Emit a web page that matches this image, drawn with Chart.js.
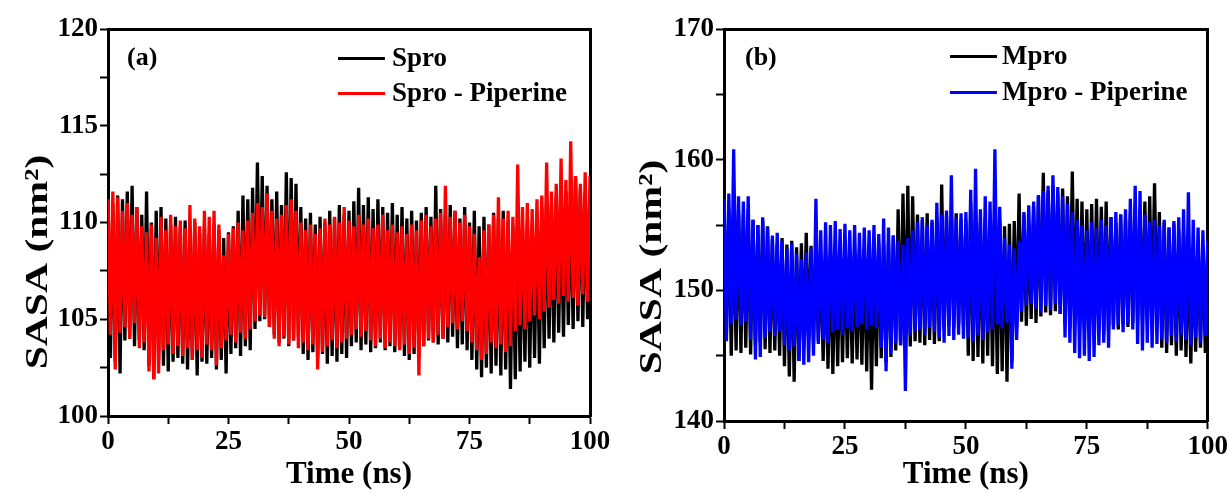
<!DOCTYPE html>
<html>
<head>
<meta charset="utf-8">
<script src="https://cdn.jsdelivr.net/npm/chart.js@4.4.1/dist/chart.umd.min.js"></script>
<style>
body{margin:0;background:#fff;width:1230px;height:494px;position:relative;overflow:hidden;font-family:"Liberation Serif",serif}
canvas{position:absolute;top:0}
.lab{position:absolute;font-weight:bold;color:#000;white-space:nowrap;line-height:1}
.key{position:absolute;height:3px;width:47px}
</style>
</head>
<body>
<canvas id="chartA" width="615" height="494" style="left:0"></canvas>
<canvas id="chartB" width="615" height="494" style="left:615px"></canvas>

<div class="lab" style="left:127px;top:44px;font-size:26px">(a)</div>
<div class="key" style="left:338px;top:57px;background:#000"></div>
<div class="lab" style="left:392px;top:44px;font-size:27px">Spro</div>
<div class="key" style="left:338px;top:92px;background:#f00"></div>
<div class="lab" style="left:392px;top:79px;font-size:27px">Spro - Piperine</div>

<div class="lab" style="left:745px;top:44px;font-size:26px">(b)</div>
<div class="key" style="left:950px;top:55px;background:#000"></div>
<div class="lab" style="left:1002px;top:42px;font-size:27px">Mpro</div>
<div class="key" style="left:950px;top:91px;background:#00f"></div>
<div class="lab" style="left:1002px;top:78px;font-size:27px">Mpro - Piperine</div>

<script>
// time axis, one sample per ns (0..100)
const time = Array.from({length:101},(_,i)=>i)

// (a) SASA envelope: upper and lower edge of each trace per ns
const sproHigh = [111.3,111.0,111.4,111.2,111.6,111.9,110.8,110.4,111.6,110.0,
 110.6,110.8,110.2,109.9,110.3,109.8,110.1,109.7,110.0,109.5,
 109.8,109.4,109.9,109.6,109.2,109.5,109.8,110.6,111.4,111.2,
 111.8,113.1,112.4,111.9,111.2,111.6,110.9,112.6,112.3,112.0,
 110.8,110.2,110.5,109.9,110.3,110.0,110.6,110.2,110.9,110.4,
 110.6,111.1,111.8,110.9,111.3,110.7,111.2,110.8,110.5,111.0,
 110.4,110.8,110.2,110.6,110.1,110.5,110.8,110.3,111.9,110.7,
 110.4,110.9,110.6,110.2,110.8,110.0,110.6,109.8,110.3,109.9,
 110.5,110.2,110.6,110.1,109.8,110.3,109.6,110.0,109.9,110.4,
 110.8,111.2,110.9,111.4,111.1,111.6,111.3,112.3,111.8,111.5,111.2]
const sproLow = [103.0,102.8,102.2,103.9,104.0,103.6,103.9,103.4,102.6,101.9,
 102.9,102.6,102.3,102.8,103.0,102.7,102.4,102.9,102.1,102.8,
 102.7,103.0,102.4,102.9,102.2,103.2,103.5,103.1,103.6,103.4,
 104.5,104.9,105.0,104.6,104.2,103.8,104.0,103.6,103.9,104.1,
 103.2,102.9,103.3,103.0,103.2,102.7,103.1,102.8,103.2,103.0,
 103.6,103.8,103.4,103.7,103.3,103.5,103.8,103.4,103.6,103.3,
 103.5,103.1,102.9,103.2,103.0,103.6,103.9,103.8,103.7,104.0,
 103.8,104.1,103.5,103.7,103.4,102.9,102.4,102.0,102.5,102.2,
 102.6,102.1,102.4,101.4,101.9,102.3,102.8,102.5,103.0,102.7,
 103.5,104.0,103.8,104.3,104.1,104.7,104.5,104.9,104.6,105.0,104.8]
const sproPipHigh = [111.2,111.6,111.3,110.6,111.0,110.4,110.8,109.8,109.5,109.9,
 109.2,110.3,109.6,110.4,109.8,110.1,109.7,110.9,110.2,109.8,
 110.6,110.3,110.6,109.9,108.3,109.4,109.7,110.0,109.6,110.1,
 110.5,111.0,110.8,111.5,110.6,110.2,110.4,110.9,111.2,110.6,
 110.0,109.6,109.9,109.4,109.7,110.2,109.9,110.3,110.0,110.8,
 110.1,109.8,110.4,109.9,110.2,109.7,109.9,110.4,109.6,109.9,
 109.5,109.8,109.4,109.9,109.6,110.1,110.4,109.8,110.2,110.5,
 111.9,110.3,110.6,110.0,110.4,109.8,109.4,108.2,109.6,109.9,
 110.4,111.3,110.2,110.6,110.3,113.0,110.8,111.0,110.7,111.2,
 111.4,113.1,111.6,112.0,113.3,112.2,114.2,112.4,112.0,112.6,112.4]
const sproPipLow = [104.2,102.4,104.3,104.6,104.0,104.8,103.5,103.8,102.3,101.9,
 102.2,103.4,103.7,103.2,103.6,103.1,103.5,102.9,103.4,103.0,
 103.7,103.4,102.6,103.5,103.9,104.2,103.8,104.3,104.0,104.5,
 104.9,105.2,105.1,104.6,104.0,103.6,104.1,103.7,103.9,103.5,
 103.8,103.4,103.7,102.4,103.3,103.6,103.9,103.5,103.8,104.0,
 104.2,104.5,104.1,104.4,103.9,103.6,104.0,103.5,103.8,103.6,
 103.4,103.7,103.2,103.5,102.1,103.6,104.0,103.8,104.2,104.0,
 104.6,104.8,104.5,104.9,104.4,103.8,103.4,102.9,103.2,103.8,
 103.5,103.7,103.3,103.6,104.4,104.7,104.5,104.9,105.2,105.0,
 105.4,105.6,106.0,105.8,106.2,105.9,106.1,105.7,106.3,105.9,106.2]

// (b)
const mproHigh = [158.0,156.2,155.9,156.1,155.8,156.2,155.4,155.0,155.3,154.9,
 153.9,153.6,154.0,153.5,153.8,153.3,153.6,154.4,153.4,153.0,
 152.6,152.4,152.8,152.5,152.9,153.0,152.7,153.1,152.8,153.2,
 153.5,153.2,153.6,153.4,153.7,154.2,156.2,157.4,158.0,157.2,
 155.8,155.4,155.9,155.2,155.6,158.1,155.7,155.3,155.9,155.5,
 155.4,156.7,155.8,155.2,155.6,155.0,154.8,155.3,154.9,155.1,
 155.3,157.4,155.8,155.2,156.4,157.2,159.0,157.6,158.0,157.4,
 157.8,157.2,159.1,157.0,156.8,156.2,156.6,157.0,156.4,156.8,
 155.6,155.2,155.8,155.4,155.9,156.4,156.2,156.8,157.2,158.2,
 156.0,155.2,154.8,155.1,154.6,154.2,153.6,153.2,153.8,153.4,153.0]
const mproLow = [146.6,145.0,145.4,145.2,145.6,145.1,145.8,146.0,145.5,145.2,
 145.4,145.0,144.2,143.4,143.0,144.6,145.8,146.2,145.9,146.1,
 144.6,144.0,143.6,144.2,144.5,144.8,144.4,144.7,144.3,143.8,
 142.4,144.2,144.8,144.5,144.9,145.4,145.8,146.0,145.7,146.1,
 146.0,145.8,146.2,145.9,146.1,147.0,147.3,147.1,147.4,147.2,
 145.0,144.6,144.9,144.4,145.0,144.2,143.6,143.8,143.0,144.5,
 147.0,147.6,147.3,147.8,147.5,148.0,148.3,148.1,148.4,148.2,
 147.4,147.1,147.6,147.2,147.0,146.8,147.1,146.9,146.6,147.0,
 147.3,147.0,147.4,147.2,147.5,147.6,147.8,147.4,147.7,147.5,
 145.6,145.2,145.8,145.0,145.4,144.9,144.4,145.3,145.6,145.2,145.5]
const mproPipHigh = [157.0,157.4,160.8,157.2,156.8,157.2,155.4,155.0,155.6,154.8,
 154.2,154.4,153.8,153.2,153.6,152.8,152.4,152.9,153.2,157.0,
 154.6,155.2,155.0,155.3,154.7,155.1,154.6,155.0,154.4,154.8,
 154.6,155.0,154.3,155.5,154.8,154.2,153.8,153.5,154.0,154.6,
 155.2,155.6,155.0,155.4,156.7,155.8,156.1,158.8,155.6,155.9,
 156.0,157.7,159.3,156.2,157.2,156.8,160.8,156.4,154.0,153.5,
 153.2,153.8,156.0,156.5,156.8,157.3,157.6,158.0,158.8,157.9,
 157.2,156.6,156.0,155.4,155.0,154.6,155.2,154.8,155.4,155.0,
 155.6,156.0,155.8,156.2,157.0,158.0,157.6,155.8,155.2,155.4,
 155.0,155.4,154.8,155.3,155.6,156.2,157.5,155.4,154.8,154.6,153.8]
const mproPipLow = [146.1,147.4,147.8,147.3,147.6,146.2,144.7,144.9,146.4,146.8,
 146.5,146.9,145.8,145.4,145.7,144.6,144.3,144.5,145.0,145.9,
 146.2,146.0,146.8,147.0,146.6,147.1,146.9,147.2,147.4,147.0,
 147.3,147.1,145.6,143.8,145.2,146.0,145.8,142.3,146.6,146.9,
 147.0,146.6,147.2,146.8,146.4,146.0,146.5,146.2,146.6,146.3,
 146.4,146.1,146.6,146.2,146.8,147.0,147.4,147.1,147.5,144.0,
 146.2,148.4,148.8,149.0,148.6,148.3,148.8,148.5,149.0,148.2,
 146.4,146.0,145.2,144.8,145.0,144.6,144.9,145.8,146.0,145.6,
 147.0,147.3,146.8,147.4,147.0,145.9,145.4,146.0,145.6,145.9,
 146.3,146.0,146.5,146.1,146.6,146.2,145.8,146.4,146.0,146.5,146.3]

// trace goes up to the high edge at each ns and down to the low edge half a ns later
function band(hi,lo){
 const pts=[]
 time.forEach((t,i)=>{
  pts.push({x:t,y:hi[i]})
  if(i<time.length-1) pts.push({x:t+0.5,y:lo[i]})
 })
 return pts
}

Chart.defaults.font.family="'Liberation Serif', serif"
Chart.defaults.color="#000"

// rotated y title with the superscript (the source figure is stretched vertically)
const sideTitle={
 id:"sideTitle",
 afterDraw(chart,args,o){
  const c=chart.ctx
  c.save()
  c.translate(o.x,o.y)
  c.rotate(-Math.PI/2)
  c.scale(1.3,1)
  c.fillStyle="#000"
  c.textAlign="center"
  c.textBaseline="middle"
  c.font="bold 32px 'Liberation Serif'"
  c.fillText("SASA (nm²)",0,0)
  c.restore()
 }
}

function panel(id,sets,yMin,yMax,yStep,yLabelEvery,geo){
 const edge={display:true,color:"#000",width:3}
 return new Chart(document.getElementById(id),{
  type:"line",
  data:{datasets:sets.map(s=>({
   data:band(s.hi,s.lo),
   borderColor:s.color,
   borderWidth:3.3,
   borderJoinStyle:"bevel",
   pointRadius:0,
   fill:false,
   tension:0,
   order:s.order,
   xAxisID:"x",
   yAxisID:"y"
  }))},
  options:{
   responsive:false,
   animation:false,
   layout:{padding:{top:geo.top,right:geo.right,left:0,bottom:0}},
   plugins:{legend:{display:false},tooltip:{enabled:false},sideTitle:geo.title},
   scales:{
    x:{type:"linear",position:"bottom",min:0,max:100,
     afterFit:s=>{s.height=geo.xh},
     border:edge,
     grid:{drawOnChartArea:false,color:"#000",tickLength:8,tickWidth:2},
     ticks:{stepSize:12.5,autoSkip:false,maxRotation:0,padding:2,
      font:{size:27,weight:"bold"},
      callback:v=>v%25===0?v:""},
     title:{display:true,text:"Time (ns)",font:{size:31,weight:"bold"},padding:{top:0,bottom:0}}
    },
    y:{type:"linear",position:"left",min:yMin,max:yMax,
     afterFit:s=>{s.width=geo.yw},
     border:edge,
     grid:{drawOnChartArea:false,color:"#000",tickLength:8,tickWidth:2},
     ticks:{stepSize:yStep,autoSkip:false,padding:2,
      font:{size:27,weight:"bold"},
      callback:v=>v%yLabelEvery===0?v:""}
    },
    xTop:{type:"linear",axis:"x",position:"top",min:0,max:100,
     afterFit:s=>{s.height=0},border:edge,grid:{display:false},ticks:{display:false}},
    yRight:{type:"linear",axis:"y",position:"right",min:yMin,max:yMax,
     afterFit:s=>{s.width=0},border:edge,grid:{display:false},ticks:{display:false}}
   }
  },
  plugins:[sideTitle]
 })
}

panel("chartA",[
 {hi:sproPipHigh,lo:sproPipLow,color:"#ff0000",order:1},
 {hi:sproHigh,lo:sproLow,color:"#000000",order:2}
],100,120,2.5,5,{top:29,right:25,xh:78,yw:108,title:{x:39,y:262}})

panel("chartB",[
 {hi:mproPipHigh,lo:mproPipLow,color:"#0000ff",order:1},
 {hi:mproHigh,lo:mproLow,color:"#000000",order:2}
],140,170,5,10,{top:29,right:21,xh:73,yw:109,title:{x:38,y:267}})
</script>
</body>
</html>
